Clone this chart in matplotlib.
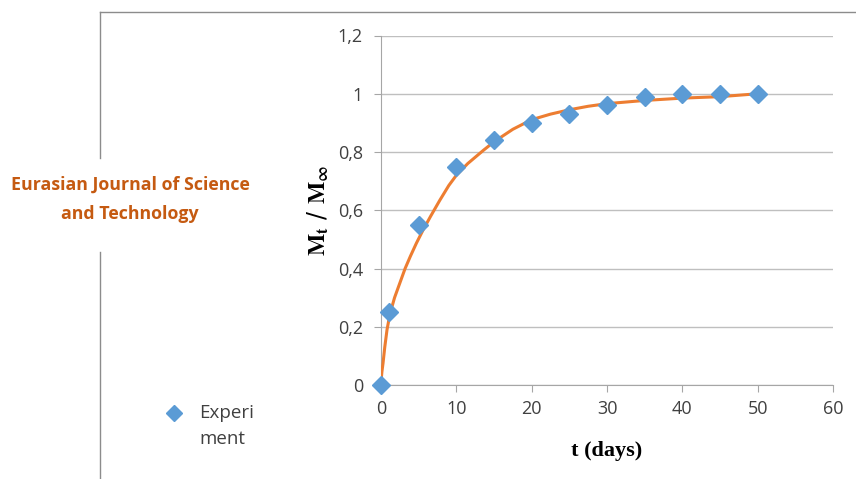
import matplotlib.pyplot as plt
from matplotlib.lines import Line2D

# Datos experimentales
t_exp = [0, 1, 5, 10, 15, 20, 25, 30, 35, 40, 45, 50]
m_exp = [0, 0.25, 0.55, 0.75, 0.84, 0.90, 0.93, 0.96, 0.99, 1.0, 1.0, 1.0]

# Curva del modelo
t_fit = [0, 0.05, 0.12, 0.27, 0.5, 0.8, 1.2, 1.8, 2.5, 3.2, 3.9, 4.7, 5.6, 6.6, 7.8,
         9, 10, 11.5, 13.6, 15, 17.5, 20, 22.5, 25, 27.5, 30, 35, 40, 45, 50]
m_fit = [0, 0.025, 0.045, 0.075, 0.13, 0.19, 0.245, 0.30, 0.35, 0.40, 0.442, 0.487,
         0.533, 0.58, 0.634, 0.685, 0.72, 0.76, 0.806, 0.835, 0.878, 0.911, 0.93, 0.945,
         0.957, 0.966, 0.977, 0.985, 0.99, 1.0]

x_ticks = [0, 10, 20, 30, 40, 50, 60]
y_ticks = [0, 0.2, 0.4, 0.6, 0.8, 1.0, 1.2]
y_labels = ['0', '0,2', '0,4', '0,6', '0,8', '1', '1,2']

plt.rcParams['mathtext.fontset'] = 'stix'

fig = plt.figure(figsize=(8.56, 4.79), dpi=100)
ax = fig.add_axes([381 / 856, 1 - 385 / 479, (833 - 381) / 856, (385 - 35.5) / 479])

ax.plot(t_fit, m_fit, color='#ED7D31', lw=2.2, zorder=3)
ax.plot(t_exp, m_exp, 'D', color='#5B9BD5', ms=9, zorder=4, clip_on=False)

ax.set_xlim(0, 60)
ax.set_ylim(0, 1.2)
ax.set_xticks(x_ticks)
ax.set_yticks(y_ticks)
ax.set_yticklabels(y_labels)
ax.grid(axis='y', color='#bfbfbf', lw=1)
ax.set_axisbelow(True)
for s in ['top', 'right']:
    ax.spines[s].set_visible(False)
for s in ['left', 'bottom']:
    ax.spines[s].set_color('#a6a6a6')
ax.tick_params(colors='#a6a6a6', length=5, labelcolor='#404040', labelsize=13)
ax.tick_params(axis='x', pad=6)
ax.tick_params(axis='y', pad=8)
for lbl in ax.get_xticklabels() + ax.get_yticklabels():
    lbl.set_family('Open Sans')

ax.set_xlabel('t (days)', family='Liberation Serif', fontweight='bold', fontsize=16)
ax.xaxis.set_label_coords(0.5, -0.16)
ax.set_ylabel(r'$\mathbf{M_t}$ / $\mathbf{M_\infty}$', fontsize=17)
ax.yaxis.set_label_coords(-0.11, 0.5)

# Marco y textos de la izquierda
fig.add_artist(Line2D([100 / 856, 1], [1 - 12 / 479] * 2, color='#8c8c8c', lw=1))
fig.add_artist(Line2D([100 / 856] * 2, [1 - 12 / 479, 1 - 158 / 479], color='#8c8c8c', lw=1))
fig.add_artist(Line2D([100 / 856] * 2, [1 - 252 / 479, 0], color='#8c8c8c', lw=1))

fig.text(130 / 856, 1 - 185 / 479, 'Eurasian Journal of Science', color='#C55A11',
         family='Open Sans', fontweight='bold', fontsize=12.8, ha='center', va='center')
fig.text(130 / 856, 1 - 214 / 479, 'and Technology', color='#C55A11',
         family='Open Sans', fontweight='bold', fontsize=12.8, ha='center', va='center')

fig.add_artist(Line2D([174 / 856], [1 - 413 / 479], marker='D', color='#5B9BD5', ms=8))
fig.text(199 / 856, 1 - 413 / 479, 'Experi', color='#404040', family='Open Sans',
         fontsize=13.5, va='center')
fig.text(199 / 856, 1 - 439 / 479, 'ment', color='#404040', family='Open Sans',
         fontsize=13.5, va='center')

plt.savefig('out.png', dpi=100)
